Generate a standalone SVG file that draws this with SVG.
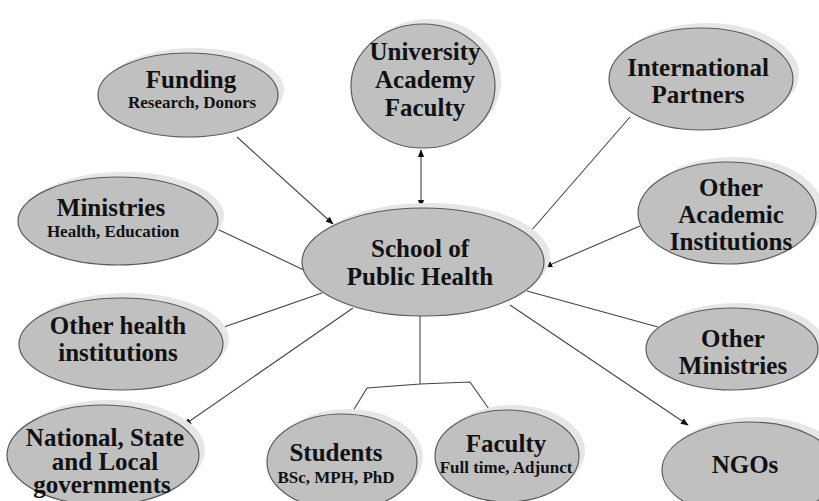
<svg xmlns="http://www.w3.org/2000/svg" width="819" height="501" viewBox="0 0 819 501">
  <style>
    .shadow { fill: #e6e6e6; }
    .node { fill: #c0c0c0; stroke: #5a5a5a; stroke-width: 1.2; }
    .edge { stroke: #444; stroke-width: 1.1; fill: none; }
    text { font-family: "Liberation Serif", "Times New Roman", serif; font-weight: bold; fill: #111; text-anchor: middle; font-size: 25px; }
    .sub { font-size: 17px; }
  </style>
  <defs>
    <marker id="arrow" viewBox="0 0 10 10" refX="9" refY="5" markerWidth="8" markerHeight="8" orient="auto" markerUnits="userSpaceOnUse">
      <path d="M0,1 L10,5 L0,9 z" fill="#111"/>
    </marker>
  </defs>
  <rect width="819" height="501" fill="#fff"/>

  <!-- connectors -->
  <g id="connectors">
    <line class="edge" x1="421" y1="178" x2="421" y2="150" marker-end="url(#arrow)"/>
    <line class="edge" x1="421" y1="178" x2="421" y2="207" marker-end="url(#arrow)"/>
    <line class="edge" x1="237" y1="137" x2="333" y2="224" marker-end="url(#arrow)"/>
    <line class="edge" x1="630" y1="117" x2="530" y2="232"/>
    <line class="edge" x1="640" y1="226" x2="545" y2="267" marker-end="url(#arrow)"/>
    <line class="edge" x1="217" y1="229" x2="306" y2="271"/>
    <line class="edge" x1="224" y1="327" x2="322" y2="293"/>
    <line class="edge" x1="353" y1="308" x2="184" y2="425" marker-end="url(#arrow)"/>
    <line class="edge" x1="527" y1="291" x2="658" y2="327"/>
    <line class="edge" x1="510" y1="305" x2="688" y2="425" marker-end="url(#arrow)"/>
    <polyline class="edge" points="420,316 420,384 367,388 347,421"/>
    <polyline class="edge" points="420,384 470,382 491,412"/>
  </g>

  <!-- center -->
  <g id="school">
    <ellipse class="shadow" cx="429" cy="257" rx="121" ry="54"/>
    <ellipse class="node" cx="423" cy="262" rx="121" ry="54"/>
    <text x="420" y="257" font-size="24.5">School of</text>
    <text x="420" y="285" font-size="24.5">Public Health</text>
  </g>

  <g id="university">
    <ellipse class="shadow" cx="429" cy="81" rx="72" ry="62"/>
    <ellipse class="node" cx="423" cy="86" rx="72" ry="62"/>
    <text x="425" y="60" font-size="24">University</text>
    <text x="425" y="88" font-size="24">Academy</text>
    <text x="425" y="116" font-size="24">Faculty</text>
  </g>

  <g id="funding">
    <ellipse class="shadow" cx="194" cy="90" rx="90" ry="42"/>
    <ellipse class="node" cx="188" cy="95" rx="90" ry="42"/>
    <text x="191" y="88" font-size="24.5">Funding</text>
    <text class="sub" x="192" y="108" font-size="16">Research, Donors</text>
  </g>

  <g id="international">
    <ellipse class="shadow" cx="707" cy="74" rx="92" ry="51"/>
    <ellipse class="node" cx="701" cy="79" rx="92" ry="51"/>
    <text x="698" y="76" font-size="24.5">International</text>
    <text x="698" y="103" font-size="24.5">Partners</text>
  </g>

  <g id="academic">
    <ellipse class="shadow" cx="733" cy="208" rx="89" ry="51"/>
    <ellipse class="node" cx="727" cy="213" rx="89" ry="51"/>
    <text x="731" y="196" font-size="24">Other</text>
    <text x="731" y="223" font-size="24">Academic</text>
    <text x="731" y="250" font-size="24">Institutions</text>
  </g>

  <g id="ministries">
    <ellipse class="shadow" cx="124" cy="216" rx="100" ry="44"/>
    <ellipse class="node" cx="118" cy="221" rx="100" ry="44"/>
    <text x="111" y="216">Ministries</text>
    <text class="sub" x="113" y="237" font-size="17.5">Health, Education</text>
  </g>

  <g id="health">
    <ellipse class="shadow" cx="127" cy="339" rx="102" ry="46"/>
    <ellipse class="node" cx="121" cy="344" rx="102" ry="46"/>
    <text x="118" y="334" font-size="24.5">Other health</text>
    <text x="118" y="361" font-size="24.5">institutions</text>
  </g>

  <g id="governments">
    <ellipse class="shadow" cx="109" cy="450" rx="96" ry="50"/>
    <ellipse class="node" cx="103" cy="455" rx="96" ry="50"/>
    <text x="105" y="446" font-size="21">National, State</text>
    <text x="105" y="469.5" font-size="21">and Local</text>
    <text x="102" y="493" font-size="21">governments</text>
  </g>

  <g id="students">
    <ellipse class="shadow" cx="348" cy="457" rx="75" ry="48"/>
    <ellipse class="node" cx="342" cy="462" rx="75" ry="48"/>
    <text x="336" y="461">Students</text>
    <text class="sub" x="336" y="483">BSc, MPH, PhD</text>
  </g>

  <g id="faculty">
    <ellipse class="shadow" cx="513" cy="451" rx="72" ry="46"/>
    <ellipse class="node" cx="507" cy="456" rx="72" ry="46"/>
    <text x="506" y="452" font-size="27">Faculty</text>
    <text class="sub" x="506" y="473" font-size="18.5">Full time, Adjunct</text>
  </g>

  <g id="other-ministries">
    <ellipse class="shadow" cx="738" cy="344" rx="86" ry="41"/>
    <ellipse class="node" cx="732" cy="349" rx="86" ry="41"/>
    <text x="733" y="347">Other</text>
    <text x="733" y="374">Ministries</text>
  </g>

  <g id="ngos">
    <ellipse class="shadow" cx="756" cy="465" rx="88" ry="48"/>
    <ellipse class="node" cx="750" cy="470" rx="88" ry="48"/>
    <text x="745" y="473">NGOs</text>
  </g>
</svg>
